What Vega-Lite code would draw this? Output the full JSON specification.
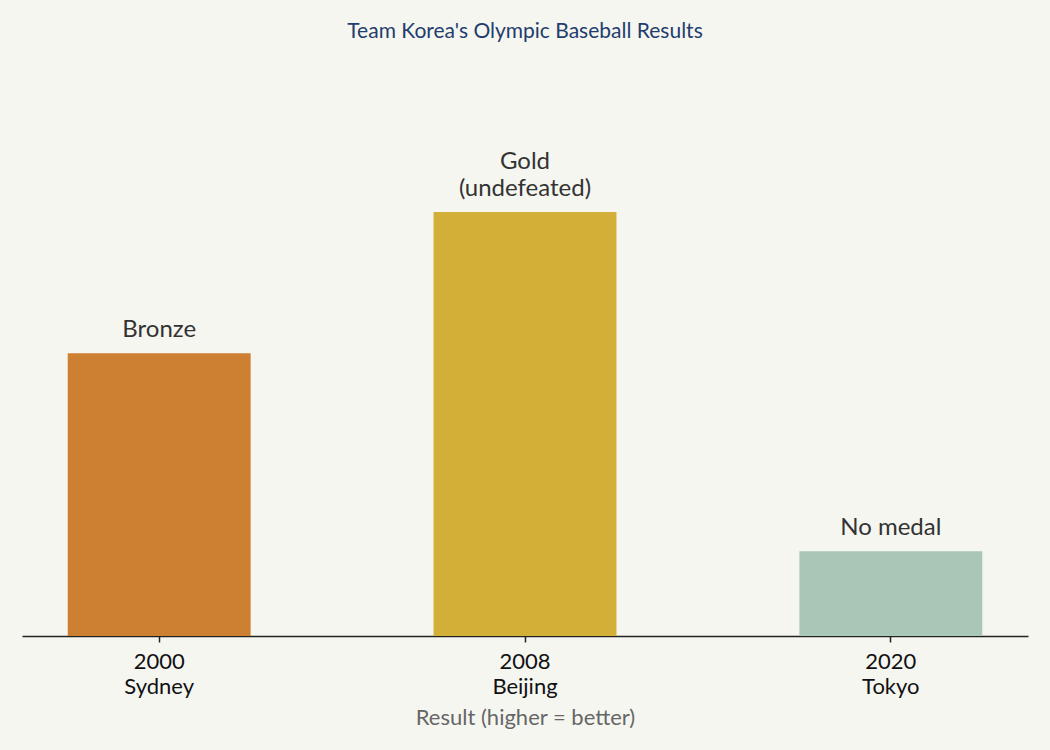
{
  "$schema": "https://vega.github.io/schema/vega-lite/v6.json",
  "width": 1006,
  "height": 424,
  "autosize": {"type": "none"},
  "padding": {"left": 22, "right": 22, "top": 212, "bottom": 114},
  "background": "#f6f6f1",
  "title": {
    "text": "Team Korea's Olympic Baseball Results",
    "fontSize": 21,
    "fontWeight": "normal",
    "color": "#1f3d6d",
    "font": "Lato",
    "offset": 108
  },
  "data": {
    "values": [
      {"games": "2000 Sydney", "result": "Bronze", "detail": null, "score": 2},
      {"games": "2008 Beijing", "result": "Gold", "detail": "(undefeated)", "score": 3},
      {"games": "2020 Tokyo", "result": "No medal", "detail": null, "score": 0.6}
    ]
  },
  "encoding": {
    "x": {
      "field": "games",
      "type": "nominal",
      "sort": null,
      "scale": {"paddingInner": 0.5, "paddingOuter": 0.125},
      "title": "Result (higher = better)",
      "axis": {
        "labelAngle": 0,
        "labelExpr": "split(datum.label, ' ')",
        "labelFontSize": 22,
        "labelColor": "#111111",
        "labelFont": "Lato",
        "labelLineHeight": 25,
        "labelPadding": 9,
        "domainColor": "#222222",
        "domainWidth": 1.5,
        "tickColor": "#222222",
        "tickSize": 6,
        "tickWidth": 1.5,
        "titleFontSize": 22,
        "titleFontWeight": "normal",
        "titleColor": "#666666",
        "titleFont": "Lato",
        "titlePadding": 10
      }
    },
    "y": {
      "field": "score",
      "type": "quantitative",
      "scale": {"domain": [0, 3]},
      "axis": null
    }
  },
  "layer": [
    {
      "mark": {"type": "bar"},
      "encoding": {
        "color": {
          "field": "result",
          "type": "nominal",
          "scale": {
            "domain": ["Bronze", "Gold", "No medal"],
            "range": ["#cd7f32", "#d4af37", "#a8c7b7"]
          },
          "legend": null
        }
      }
    },
    {
      "transform": [{"filter": "!datum.detail"}],
      "mark": {
        "type": "text",
        "baseline": "bottom",
        "dy": -11,
        "fontSize": 24,
        "font": "Lato",
        "color": "#333333"
      },
      "encoding": {
        "text": {"field": "result"}
      }
    },
    {
      "transform": [{"filter": "datum.detail"}],
      "mark": {
        "type": "text",
        "baseline": "bottom",
        "dy": -38,
        "fontSize": 24,
        "font": "Lato",
        "color": "#333333"
      },
      "encoding": {
        "text": {"field": "result"}
      }
    },
    {
      "transform": [{"filter": "datum.detail"}],
      "mark": {
        "type": "text",
        "baseline": "bottom",
        "dy": -11,
        "fontSize": 24,
        "font": "Lato",
        "color": "#333333"
      },
      "encoding": {
        "text": {"field": "detail"}
      }
    }
  ],
  "config": {
    "view": {"stroke": null}
  }
}
